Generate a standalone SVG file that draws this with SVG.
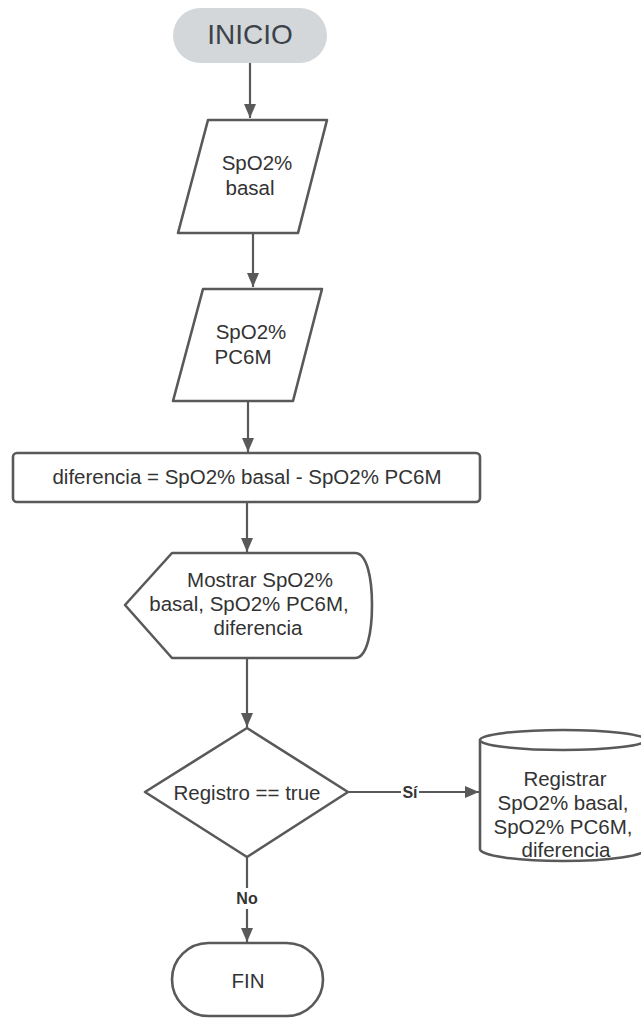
<svg xmlns="http://www.w3.org/2000/svg" width="641" height="1019" viewBox="0 0 641 1019">
  <defs>
    <style>
      .shape { fill: #ffffff; stroke: #595959; stroke-width: 2.6; stroke-linejoin: round; }
      .term { fill: #d4d7da; stroke: none; }
      .edge { fill: none; stroke: #595959; stroke-width: 2.2; }
      .lbl { font-family: "Liberation Sans", Arial, sans-serif; font-size: 20.5px; fill: #333333; text-anchor: middle; dominant-baseline: central; }
      .title { font-family: "Liberation Sans", Arial, sans-serif; font-size: 28px; fill: #3b4249; text-anchor: middle; dominant-baseline: central; }
      .elbl { font-family: "Liberation Sans", Arial, sans-serif; font-size: 16px; font-weight: bold; fill: #333333; text-anchor: middle; dominant-baseline: central; }
    </style>
    <marker id="arrow" viewBox="0 0 14 12" refX="14" refY="6" markerWidth="14" markerHeight="12" markerUnits="userSpaceOnUse" orient="auto">
      <path d="M0,0 L14,6 L0,12 Z" fill="#595959"/>
    </marker>
  </defs>

  <!-- connectors -->
  <g id="connectors">
    <line class="edge" x1="250" y1="63" x2="250" y2="118" marker-end="url(#arrow)"/>
    <line class="edge" x1="253" y1="233" x2="253" y2="287" marker-end="url(#arrow)"/>
    <line class="edge" x1="248" y1="401" x2="248" y2="452" marker-end="url(#arrow)"/>
    <line class="edge" x1="247" y1="502" x2="247" y2="552" marker-end="url(#arrow)"/>
    <line class="edge" x1="247" y1="658" x2="247" y2="727" marker-end="url(#arrow)"/>
    <!-- yes branch -->
    <line class="edge" x1="348" y1="792" x2="401" y2="792"/>
    <line class="edge" x1="419" y1="792" x2="479" y2="792" marker-end="url(#arrow)"/>
    <text class="elbl" x="410" y="792">Sí</text>
    <!-- no branch -->
    <line class="edge" x1="247" y1="857" x2="247" y2="888"/>
    <line class="edge" x1="247" y1="909" x2="247" y2="942" marker-end="url(#arrow)"/>
    <text class="elbl" x="247" y="898">No</text>
  </g>

  <!-- start terminator -->
  <g id="inicio">
    <rect class="term" x="173" y="8" width="154" height="55" rx="27.5"/>
    <text class="title" x="250" y="34">INICIO</text>
  </g>

  <!-- input: baseline SpO2 -->
  <g id="input-basal">
    <polygon class="shape" points="208,120 327,120 298,233 178,233"/>
    <text class="lbl" x="257" y="162">SpO2%</text>
    <text class="lbl" x="250" y="187">basal</text>
  </g>

  <!-- input: SpO2 after walk test -->
  <g id="input-pc6m">
    <polygon class="shape" points="203,289 322,289 293,401 173,401"/>
    <text class="lbl" x="251" y="331">SpO2%</text>
    <text class="lbl" x="243" y="356">PC6M</text>
  </g>

  <!-- process -->
  <g id="calc">
    <rect class="shape" x="13" y="453" width="467" height="49" rx="4"/>
    <text class="lbl" x="247" y="476">diferencia = SpO2% basal - SpO2% PC6M</text>
  </g>

  <!-- display -->
  <g id="mostrar">
    <path class="shape" d="M172,553 H355 C367,553 372,578 372,605 C372,632 367,658 355,658 H172 L125,605 Z"/>
    <text class="lbl" x="260" y="579">Mostrar SpO2%</text>
    <text class="lbl" x="249" y="603">basal, SpO2% PC6M,</text>
    <text class="lbl" x="258" y="627">diferencia</text>
  </g>

  <!-- decision -->
  <g id="decision">
    <polygon class="shape" points="145,792 247,728 348,792 247,857"/>
    <text class="lbl" x="247" y="792">Registro == true</text>
  </g>

  <!-- data store -->
  <g id="registrar">
    <path class="shape" d="M480,740 V849 A83,12 0 0 0 646,849 V740"/>
    <ellipse class="shape" cx="563" cy="740" rx="83" ry="10"/>
    <text class="lbl" x="565" y="778">Registrar</text>
    <text class="lbl" x="563" y="802">SpO2% basal,</text>
    <text class="lbl" x="563" y="826">SpO2% PC6M,</text>
    <text class="lbl" x="566" y="849">diferencia</text>
  </g>

  <!-- end terminator -->
  <g id="fin">
    <rect class="shape" x="172" y="943" width="151" height="73" rx="36.5"/>
    <text class="lbl" x="248" y="980">FIN</text>
  </g>
</svg>
